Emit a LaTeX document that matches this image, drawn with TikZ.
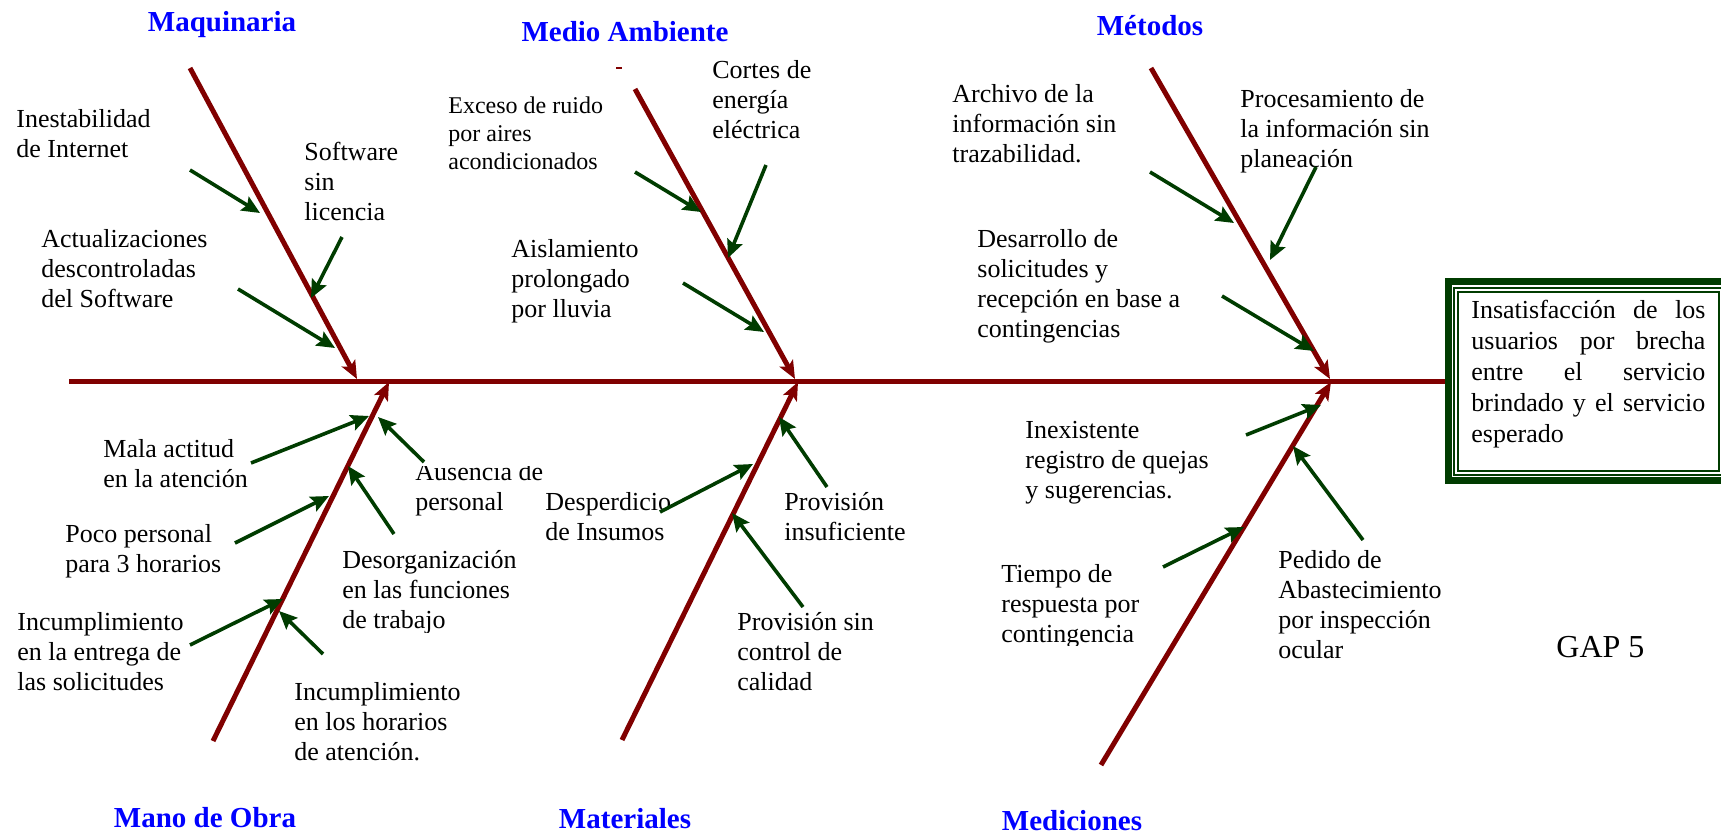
\documentclass[tikz,border=0pt]{standalone}
\usepackage{fontspec}
\setmainfont{Liberation Serif}
\usetikzlibrary{arrows.meta}
\definecolor{bonered}{RGB}{128,0,0}
\definecolor{arrgreen}{RGB}{0,60,0}
\definecolor{headblue}{RGB}{0,0,255}
\newcommand{\stk}[1]{\vtop{\halign{##\hfil\cr#1\crcr}}}
\newcommand{\garrow}[3]{\coordinate (#1s) at (#2); \coordinate (#1e) at (#3); \draw[garr] (#1s) -- (#1e);}
\newcommand{\bonearrow}[3]{\coordinate (#1s) at (#2); \coordinate (#1e) at (#3); \draw[bonearr] (#1s) -- (#1e);}
\begin{document}
\begin{tikzpicture}[x=0.5pt,y=-0.5pt,
  bone/.style={draw=bonered, line width=2.5pt},
  bonearr/.style={bone, -{Stealth[length=9pt,width=7.5pt,inset=2pt]}},
  garr/.style={draw=arrgreen, line width=1.8pt, -{Stealth[length=9pt,width=8pt,inset=1.5pt]}},
  lbl/.style={anchor=base west, inner sep=0pt, font=\fontsize{13}{15}\selectfont},
  lbls/.style={anchor=base west, inner sep=0pt, font=\fontsize{12}{14}\selectfont},
  head/.style={anchor=base, inner sep=0pt, text=headblue, font=\fontsize{14.5}{17}\selectfont\bfseries},
  frame/.style={draw=arrgreen}
]
\useasboundingbox (0,0) rectangle (1721,835);

% headings
\node[head] (hmaq) at (222,32) {Maquinaria};
\node[head] (hmed) at (625,41) {Medio Ambiente};
\node[head] (hmet) at (1150,35) {Métodos};
\node[head] (hmano) at (205,827) {Mano de Obra};
\node[head] (hmat) at (625,828) {Materiales};
\node[head] (hmedi) at (1072,830) {Mediciones};

% spine and bones
\coordinate (spL) at (69,381);
\coordinate (spR) at (1446,381);
\draw[bone] (spL) -- (spR);
\bonearrow{bmaq}{190,68}{357,379}
\bonearrow{bmed}{635,89}{795,379}
\bonearrow{bmet}{1151,68}{1330,379}
\bonearrow{bmano}{213,741}{389,382}
\bonearrow{bmat}{622,740}{798,382}
\bonearrow{bmedi}{1101,765}{1331,382}
\draw[bonered, line width=1.2pt] (616,68) -- (622,68);

% effect box
\draw[frame, line width=3.5pt] (1448.5,281.5) rectangle (1745,480.5);
\draw[frame, line width=1pt] (1454,288) rectangle (1745,475);
\draw[frame, line width=1pt] (1458,292) rectangle (1719,471);
\node[anchor=base west, inner sep=0pt, font=\fontsize{13}{15.5}\selectfont] (effect) at (1471,318)
 {\vtop{\hbox to 117pt{Insatisfacción\hfill de\hfill los}\hbox to 117pt{usuarios\hfill por\hfill brecha}\hbox to 117pt{entre\hfill el\hfill servicio}\hbox to 117pt{brindado\hfill y\hfill el\hfill servicio}\hbox{esperado}}};

% Maquinaria causes
\node[lbl] (t1) at (16,127) {\stk{Inestabilidad\cr de Internet}};
\node[lbl] (t2) at (304,160) {\stk{Software\cr sin\cr licencia}};
\node[lbl] (t3) at (41,247) {\stk{Actualizaciones\cr descontroladas\cr del Software}};
\garrow{a1}{190,170}{260,213}
\garrow{a2}{342,237}{311,298}
\garrow{a3}{238,289}{335,348}

% Medio Ambiente causes
\node[lbls] (t4) at (448,113) {\stk{Exceso de ruido\cr por aires\cr acondicionados}};
\node[lbl] (t5) at (712,78) {\stk{Cortes de\cr energía\cr eléctrica}};
\node[lbl] (t6) at (511,257) {\stk{Aislamiento\cr prolongado\cr por lluvia}};
\garrow{b1}{635,172}{701,212}
\garrow{b2}{766,165}{728,258}
\garrow{b3}{683,283}{764,332}

% Metodos causes
\node[lbl] (t7) at (952,102) {\stk{Archivo de la\cr información sin\cr trazabilidad.}};
\node[lbl] (t8) at (1240,107) {\stk{Procesamiento de\cr la información sin\cr planeación}};
\node[lbl] (t9) at (977,247) {\stk{Desarrollo de\cr solicitudes y\cr recepción en base a\cr contingencias}};
\garrow{c1}{1150,172}{1234,223}
\garrow{c2}{1316,167}{1270,260}
\garrow{c3}{1222,296}{1314,351}

% Mano de Obra causes
\node[lbl] (t10) at (103,457) {\stk{Mala actitud\cr en la atención}};
\begin{scope}
\clip (405,466) rectangle (570,530);
\node[lbl] (t11) at (415,480) {\stk{Ausencia de\cr personal}};
\end{scope}
\node[lbl] (t12) at (65,542) {\stk{Poco personal\cr para 3 horarios}};
\begin{scope}
\clip (330,540) rectangle (540,632);
\node[lbl] (t13) at (342,568) {\stk{Desorganización\cr en las funciones\cr de trabajo}};
\end{scope}
\node[lbl] (t14) at (17,630) {\stk{Incumplimiento\cr en la entrega de\cr las solicitudes}};
\node[lbl] (t15) at (294,700) {\stk{Incumplimiento\cr en los horarios\cr de atención.}};
\garrow{d1}{251,463}{369,416}
\garrow{d2}{424,462}{378,417}
\garrow{d3}{235,543}{329,496}
\garrow{d4}{394,534}{348,466}
\garrow{d5}{190,645}{283,599}
\garrow{d6}{323,654}{279,611}

% Materiales causes
\node[lbl] (t16) at (545,510) {\stk{Desperdicio\cr de Insumos}};
\node[lbl] (t17) at (784,510) {\stk{Provisión\cr insuficiente}};
\node[lbl] (t18) at (737,630) {\stk{Provisión sin\cr control de\cr calidad}};
\garrow{e1}{660,512}{753,464}
\garrow{e2}{827,487}{779,417}
\garrow{e3}{803,607}{732,513}

% Mediciones causes
\node[lbl] (t19) at (1025,438) {\stk{Inexistente\cr registro de quejas\cr y sugerencias.}};
\begin{scope}
\clip (1265,545) rectangle (1440,662);
\node[lbl] (t20) at (1278,568) {\stk{Pedido de\cr Abastecimiento\cr por inspección\cr ocular}};
\end{scope}
\begin{scope}
\clip (990,560) rectangle (1160,645);
\node[lbl] (t21) at (1001,582) {\stk{Tiempo de\cr respuesta por\cr contingencia}};
\end{scope}
\garrow{f1}{1246,435}{1321,405}
\garrow{f2}{1363,540}{1293,446}
\garrow{f3}{1163,567}{1244,527}

\node[anchor=base west, inner sep=0pt, font=\fontsize{16}{19}\selectfont] (gap) at (1556,657) {GAP 5};
\end{tikzpicture}
\end{document}
